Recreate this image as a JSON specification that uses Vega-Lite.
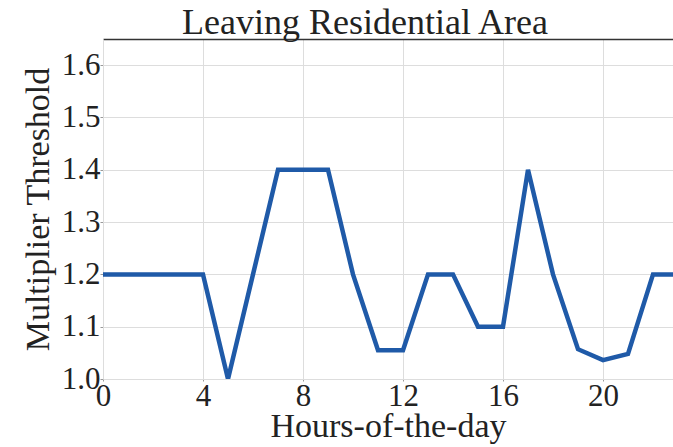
{
  "$schema": "https://vega.github.io/schema/vega-lite/v6.json",
  "autosize": "none",
  "padding": {"left": 103, "top": 39, "right": 0, "bottom": 68},
  "width": 570,
  "height": 340,
  "background": "white",
  "title": {
    "text": "Leaving Residential Area",
    "font": "Liberation Serif",
    "fontSize": 36,
    "fontWeight": "normal",
    "color": "#222222",
    "anchor": "middle",
    "dx": -23,
    "dy": 34,
    "baseline": "alphabetic",
    "offset": 3
  },
  "config": {
    "view": {"stroke": null},
    "axis": {
      "labelFont": "Liberation Serif",
      "titleFont": "Liberation Serif",
      "labelColor": "#222222",
      "titleColor": "#222222",
      "titleFontWeight": "normal",
      "gridColor": "#dddddd",
      "gridWidth": 1,
      "domainColor": "#dddddd",
      "tickColor": "#999999"
    }
  },
  "data": {
    "values": [
      {"hour": 0, "value": 1.2},
      {"hour": 1, "value": 1.2},
      {"hour": 2, "value": 1.2},
      {"hour": 3, "value": 1.2},
      {"hour": 4, "value": 1.2},
      {"hour": 5, "value": 1.0},
      {"hour": 6, "value": 1.2},
      {"hour": 7, "value": 1.4},
      {"hour": 8, "value": 1.4},
      {"hour": 9, "value": 1.4},
      {"hour": 10, "value": 1.2},
      {"hour": 11, "value": 1.055},
      {"hour": 12, "value": 1.055},
      {"hour": 13, "value": 1.2},
      {"hour": 14, "value": 1.2},
      {"hour": 15, "value": 1.1},
      {"hour": 16, "value": 1.1},
      {"hour": 17, "value": 1.4},
      {"hour": 18, "value": 1.2},
      {"hour": 19, "value": 1.057},
      {"hour": 20, "value": 1.036},
      {"hour": 21, "value": 1.048},
      {"hour": 22, "value": 1.2},
      {"hour": 23, "value": 1.2}
    ]
  },
  "layer": [
    {
      "mark": {"type": "line", "color": "#1f5aa8", "strokeWidth": 4.5, "clip": true, "strokeJoin": "miter"},
      "encoding": {
        "x": {
          "field": "hour",
          "type": "quantitative",
          "scale": {"domain": [0, 22.8], "nice": false, "zero": false},
          "axis": {
            "values": [0, 4, 8, 12, 16, 20],
            "title": "Hours-of-the-day",
            "titleFontSize": 34,
            "titlePadding": -2,
            "labelFontSize": 31,
            "labelPadding": 0,
            "tickSize": 2,
            "labelFlush": false,
            "domain": true
          }
        },
        "y": {
          "field": "value",
          "type": "quantitative",
          "scale": {"domain": [1.0, 1.65], "nice": false, "zero": false},
          "axis": {
            "values": [1.0, 1.1, 1.2, 1.3, 1.4, 1.5, 1.6],
            "format": ".1f",
            "title": "Multiplier Threshold",
            "titleFontSize": 34,
            "titlePadding": 6,
            "labelFontSize": 31,
            "labelPadding": 0,
            "tickSize": 3,
            "labelFlush": false,
            "domain": true
          }
        }
      }
    },
    {
      "mark": {"type": "line", "opacity": 0},
      "encoding": {
        "x": {
          "field": "hour",
          "type": "quantitative",
          "axis": {
            "orient": "top",
            "labels": false,
            "ticks": false,
            "grid": false,
            "title": null,
            "minExtent": 0,
            "maxExtent": 0,
            "domain": true,
            "domainColor": "#333333",
            "domainWidth": 1.5
          }
        },
        "y": {"field": "value", "type": "quantitative"}
      }
    }
  ],
  "resolve": {"axis": {"x": "independent"}}
}
